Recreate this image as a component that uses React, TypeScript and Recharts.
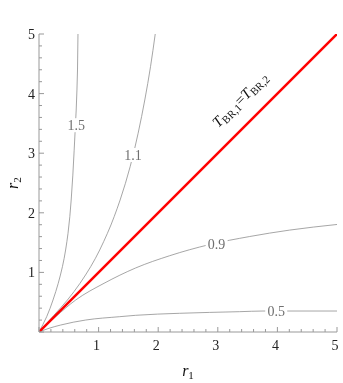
import { ComposedChart, Line, XAxis, YAxis, ReferenceDot, Label } from 'recharts'

// contour levels of T_BR,1 / T_BR,2 as (r1, r2) points
const contour15 = [
  { r1: 0, r2: 0 },
  { r1: 0.129, r2: 0.257 },
  { r1: 0.235, r2: 0.537 },
  { r1: 0.393, r2: 1.096 },
  { r1: 0.487, r2: 1.656 },
  { r1: 0.54, r2: 2.215 },
  { r1: 0.59, r2: 3.05 },
  { r1: 0.624, r2: 3.725 },
  { r1: 0.646, r2: 4.396 },
  { r1: 0.654, r2: 5 },
]
const contour11 = [
  { r1: 0, r2: 0 },
  { r1: 0.25, r2: 0.28 },
  { r1: 0.477, r2: 0.537 },
  { r1: 0.867, r2: 1.096 },
  { r1: 1.148, r2: 1.656 },
  { r1: 1.361, r2: 2.215 },
  { r1: 1.529, r2: 2.773 },
  { r1: 1.663, r2: 3.334 },
  { r1: 1.775, r2: 3.893 },
  { r1: 1.871, r2: 4.451 },
  { r1: 1.95, r2: 5 },
]
const contour09 = [
  { r1: 0, r2: 0 },
  { r1: 0.28, r2: 0.257 },
  { r1: 0.616, r2: 0.537 },
  { r1: 1.091, r2: 0.817 },
  { r1: 1.623, r2: 1.075 },
  { r1: 2.193, r2: 1.28 },
  { r1: 2.864, r2: 1.468 },
  { r1: 3.535, r2: 1.602 },
  { r1: 4.206, r2: 1.71 },
  { r1: 5, r2: 1.804 },
]
const contour05 = [
  { r1: 0, r2: 0 },
  { r1: 0.168, r2: 0.062 },
  { r1: 0.364, r2: 0.117 },
  { r1: 0.784, r2: 0.201 },
  { r1: 1.354, r2: 0.257 },
  { r1: 1.623, r2: 0.28 },
  { r1: 2.36, r2: 0.314 },
  { r1: 3.367, r2: 0.341 },
  { r1: 3.758, r2: 0.352 },
  { r1: 5, r2: 0.352 },
]
const equalLine = [
  { r1: 0, r2: 0 },
  { r1: 5, r2: 5 },
]

// where the level labels sit on their curves
const levelLabels = [
  { text: '1.5', r1: 0.625, r2: 3.47 },
  { text: '1.1', r1: 1.576, r2: 2.97 },
  { text: '0.9', r1: 2.98, r2: 1.48 },
  { text: '0.5', r1: 3.98, r2: 0.352 },
]

const allTicks = [
  0, 0.2, 0.4, 0.6, 0.8, 1, 1.2, 1.4, 1.6, 1.8, 2, 2.2, 2.4, 2.6, 2.8, 3, 3.2, 3.4, 3.6, 3.8, 4,
  4.2, 4.4, 4.6, 4.8, 5,
]
const tickLabels = ['1', '2', '3', '4', '5']

const SERIF = "'Liberation Serif', 'DejaVu Serif', serif"
const FRAME = '#999'
const CONTOUR = '#8f8f8f'
const txt = { fontFamily: SERIF }

const isMajor = (v: number) => Math.abs(v - Math.round(v)) < 1e-6
const labelFor = (v: number) => tickLabels.find((t) => Number(t) === v)

function BottomTick({ x, y, payload }: any) {
  const v = payload.value
  const len = isMajor(v) ? 5 : 3
  const lbl = labelFor(v)
  return (
    <g>
      <line x1={x} y1={y} x2={x} y2={y - len} stroke={FRAME} />
      {lbl && (
        <text x={x - 2} y={y + 18} textAnchor="middle" style={txt} fontSize={14} fill="#222">
          {lbl}
        </text>
      )}
    </g>
  )
}

function TopTick({ x, y, payload }: any) {
  const len = isMajor(payload.value) ? 5 : 3
  return <line x1={x} y1={y} x2={x} y2={y + len} stroke={FRAME} />
}

function LeftTick({ x, y, payload }: any) {
  const v = payload.value
  const len = isMajor(v) ? 5 : 3
  const lbl = labelFor(v)
  return (
    <g>
      <line x1={x} y1={y} x2={x + len} y2={y} stroke={FRAME} />
      {lbl && (
        <text x={x - 4} y={y + 5} textAnchor="end" style={txt} fontSize={14} fill="#222">
          {lbl}
        </text>
      )}
    </g>
  )
}

function RightTick({ x, y, payload }: any) {
  const len = isMajor(payload.value) ? 5 : 3
  return <line x1={x} y1={y} x2={x - len} y2={y} stroke={FRAME} />
}

function levelShape(text: string) {
  return ({ cx, cy }: any) => (
    <g>
      <rect x={cx - 11} y={cy - 7} width={22} height={14} fill="#fff" />
      <text x={cx} y={cy + 5} textAnchor="middle" style={txt} fontSize={14} fill="#707070">
        {text}
      </text>
    </g>
  )
}

function equalShape({ cx, cy }: any) {
  return (
    <text
      x={cx}
      y={cy}
      textAnchor="middle"
      style={txt}
      fontSize={15}
      fill="#111"
      transform={`rotate(-45 ${cx} ${cy})`}
    >
      <tspan fontStyle="italic">T</tspan>
      <tspan fontSize={11} dy={3}>BR,1</tspan>
      <tspan dy={-3}>=</tspan>
      <tspan fontStyle="italic">T</tspan>
      <tspan fontSize={11} dy={3}>BR,2</tspan>
    </text>
  )
}

const renderTitle = ({ viewBox }: any) => (
  <text x={viewBox.x + viewBox.width / 2} y={20} textAnchor="middle" style={txt} fontSize={16} fill="#111">
    <tspan fontStyle="italic">T</tspan>
    <tspan fontSize={11} dy={3}>BR,1</tspan>
    <tspan dy={-3}>/</tspan>
    <tspan fontStyle="italic">T</tspan>
    <tspan fontSize={11} dy={3}>BR,2</tspan>
    <tspan dy={-3}>, </tspan>
    <tspan fontStyle="italic">ν</tspan>
    <tspan>=1</tspan>
  </text>
)

const renderXLabel = ({ viewBox }: any) => (
  <text x={viewBox.x + viewBox.width / 2} y={376} textAnchor="middle" style={txt} fontSize={16} fill="#111">
    <tspan fontStyle="italic">r</tspan>
    <tspan fontSize={11} dy={3}>1</tspan>
  </text>
)

const renderYLabel = ({ viewBox }: any) => {
  const cy = viewBox.y + viewBox.height / 2
  return (
    <text x={18} y={cy} textAnchor="middle" style={txt} fontSize={16} fill="#111" transform={`rotate(-90 18 ${cy})`}>
      <tspan fontStyle="italic">r</tspan>
      <tspan fontSize={11} dy={3}>2</tspan>
    </text>
  )
}

export default function App() {
  const contours = [
    { data: contour15, curve: 'monotoneY' },
    { data: contour11, curve: 'monotoneY' },
    { data: contour09, curve: 'monotoneX' },
    { data: contour05, curve: 'monotoneX' },
  ]
  return (
    <div style={{ position: 'fixed', left: 0, top: 0 }}>
      <ComposedChart width={343} height={383} margin={{ top: 34, right: 6, bottom: 6, left: 0 }}>
        <XAxis
          xAxisId="b"
          dataKey="r1"
          type="number"
          domain={[0, 5]}
          ticks={allTicks}
          interval={0}
          allowDataOverflow
          height={45}
          stroke={FRAME}
          tickLine={false}
          tickSize={0}
          tickMargin={0}
          tick={<BottomTick />}
        >
          <Label content={renderXLabel} />
        </XAxis>
        <XAxis
          xAxisId="t"
          orientation="top"
          dataKey="r1"
          type="number"
          domain={[0, 5]}
          ticks={allTicks}
          interval={0}
          allowDataOverflow
          height={0}
          stroke={FRAME}
          tickLine={false}
          tickSize={0}
          tickMargin={0}
          tick={<TopTick />}
        >
          <Label content={renderTitle} />
        </XAxis>
        <YAxis
          yAxisId="l"
          dataKey="r2"
          type="number"
          domain={[0, 5]}
          ticks={allTicks}
          interval={0}
          allowDataOverflow
          width={39}
          stroke={FRAME}
          tickLine={false}
          tickSize={0}
          tickMargin={0}
          tick={<LeftTick />}
        >
          <Label content={renderYLabel} />
        </YAxis>
        <YAxis
          yAxisId="r"
          orientation="right"
          dataKey="r2"
          type="number"
          domain={[0, 5]}
          ticks={allTicks}
          interval={0}
          allowDataOverflow
          width={0}
          stroke={FRAME}
          tickLine={false}
          tickSize={0}
          tickMargin={0}
          tick={<RightTick />}
        />
        {contours.map((c, i) => (
          <Line
            key={i}
            xAxisId="b"
            yAxisId="l"
            data={c.data}
            dataKey="r2"
            type={c.curve as any}
            stroke={CONTOUR}
            strokeWidth={0.8}
            dot={false}
            activeDot={false}
            isAnimationActive={false}
          />
        ))}
        <Line
          xAxisId="b"
          yAxisId="l"
          data={equalLine}
          dataKey="r2"
          type="linear"
          stroke="#ff0000"
          strokeWidth={2.5}
          dot={false}
          activeDot={false}
          isAnimationActive={false}
        />
        {levelLabels.map((l) => (
          <ReferenceDot
            key={l.text}
            xAxisId="b"
            yAxisId="l"
            x={l.r1}
            y={l.r2}
            ifOverflow="visible"
            shape={levelShape(l.text)}
          />
        ))}
        <ReferenceDot xAxisId="b" yAxisId="l" x={3.43} y={3.84} ifOverflow="visible" shape={equalShape} />
      </ComposedChart>
    </div>
  )
}
